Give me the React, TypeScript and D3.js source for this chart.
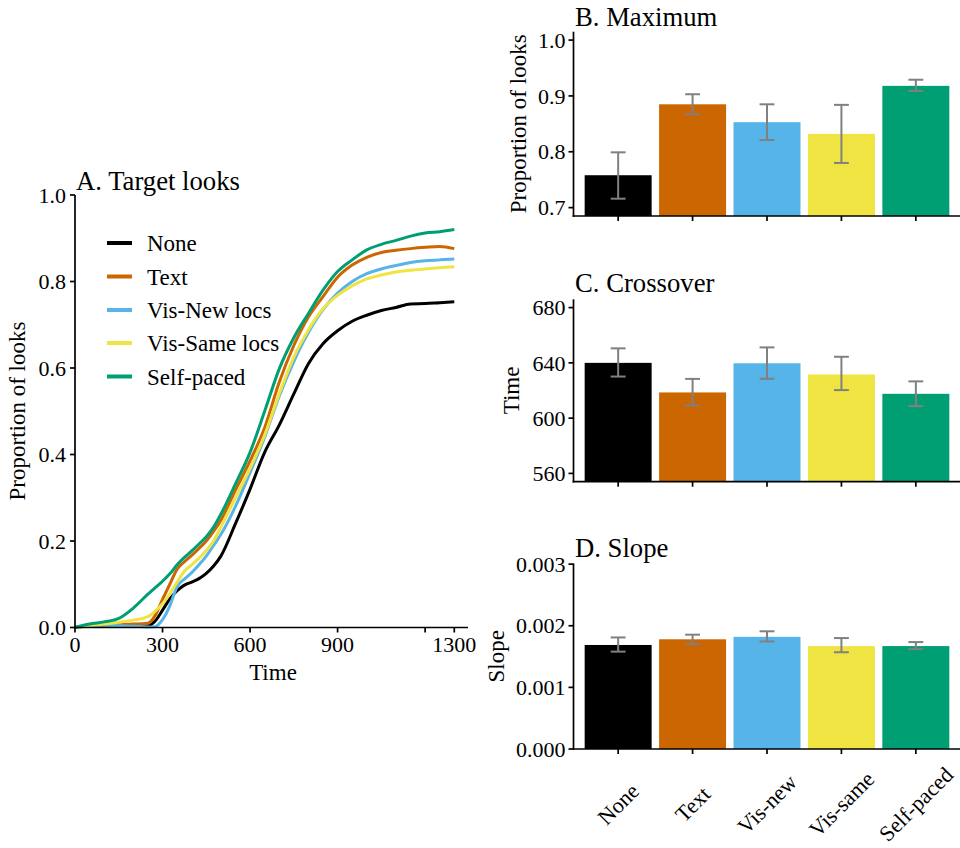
import React from "react";
import * as d3 from "d3";

// ---------- Data ----------
const SERIES_NAMES = ["None", "Text", "Vis-New locs", "Vis-Same locs", "Self-paced"];
const SERIES_COLORS = ["#000000", "#CC6600", "#56B4E9", "#F0E442", "#009E73"];

const TIMES = [0, 50, 100, 150, 200, 250, 275, 300, 325, 350, 375, 400, 425, 450, 475, 500, 550, 600, 650, 700, 750, 800, 850, 900, 950, 1000, 1050, 1100, 1150, 1200, 1250, 1300];

const NONE_LOOKS = [0, 0.004, 0.005, 0.005, 0.005, 0.004, 0.015, 0.04, 0.066, 0.085, 0.098, 0.105, 0.113, 0.125, 0.142, 0.165, 0.24, 0.32, 0.405, 0.468, 0.54, 0.61, 0.656, 0.686, 0.708, 0.722, 0.733, 0.74, 0.748, 0.749, 0.751, 0.753];
const TEXT_LOOKS = [0, 0.004, 0.006, 0.007, 0.008, 0.01, 0.028, 0.065, 0.1, 0.135, 0.152, 0.167, 0.183, 0.2, 0.222, 0.248, 0.318, 0.385, 0.462, 0.567, 0.652, 0.718, 0.765, 0.81, 0.838, 0.856, 0.867, 0.872, 0.876, 0.879, 0.881, 0.876];
const VISNEW_LOOKS = [0, 0.004, 0.005, 0.004, 0.003, 0.001, 0.002, 0.018, 0.05, 0.095, 0.112, 0.127, 0.145, 0.165, 0.19, 0.215, 0.28, 0.358, 0.44, 0.535, 0.615, 0.682, 0.735, 0.773, 0.8, 0.818, 0.829, 0.837, 0.844, 0.848, 0.85, 0.852];
const VISSAME_LOOKS = [0, 0.005, 0.008, 0.012, 0.017, 0.025, 0.038, 0.055, 0.078, 0.105, 0.13, 0.145, 0.16, 0.178, 0.2, 0.232, 0.3, 0.368, 0.445, 0.54, 0.625, 0.688, 0.737, 0.768, 0.79, 0.806, 0.815, 0.822, 0.826, 0.829, 0.832, 0.834];
const SELF_LOOKS = [0, 0.008, 0.013, 0.021, 0.045, 0.077, 0.092, 0.107, 0.124, 0.145, 0.162, 0.177, 0.193, 0.21, 0.232, 0.262, 0.332, 0.405, 0.5, 0.598, 0.67, 0.726, 0.78, 0.823, 0.85, 0.873, 0.886, 0.895, 0.905, 0.912, 0.915, 0.92];
const LOOK_SERIES = [NONE_LOOKS, TEXT_LOOKS, VISNEW_LOOKS, VISSAME_LOOKS, SELF_LOOKS];

const A_X_TICKS = [0, 300, 600, 900, 1200, 1300];
const A_X_LABELS = ["0", "300", "600", "900", "", "1300"];
const A_Y_TICKS = [0, 0.2, 0.4, 0.6, 0.8, 1.0];

const CATEGORIES = ["None", "Text", "Vis-new", "Vis-same", "Self-paced"];

const MAX_VALUES = [0.758, 0.885, 0.853, 0.832, 0.918];
const MAX_LOW = [0.716, 0.867, 0.821, 0.78, 0.909];
const MAX_HIGH = [0.799, 0.903, 0.885, 0.884, 0.929];
const MAX_TICKS = [0.7, 0.8, 0.9, 1.0];

const CROSS_VALUES = [640.0, 618.6, 639.7, 631.6, 617.6];
const CROSS_LOW = [630.1, 609.2, 628.5, 620.3, 608.7];
const CROSS_HIGH = [650.5, 628.4, 651.2, 644.4, 626.6];
const CROSS_TICKS = [560, 600, 640, 680];

const SLOPE_VALUES = [0.001688, 0.00178, 0.00182, 0.00167, 0.00167];
const SLOPE_LOW = [0.00158, 0.0017, 0.001745, 0.00157, 0.00162];
const SLOPE_HIGH = [0.00181, 0.001855, 0.00191, 0.0018, 0.001735];
const SLOPE_TICKS = [0, 0.001, 0.002, 0.003];

const FONT = "'Liberation Serif', 'Times New Roman', serif";
const AXIS_W = 1.7;

function BarPanel(props: {
  title: string;
  yTitle: string;
  top: number;
  bottom: number;
  domain: [number, number];
  values: number[];
  low: number[];
  high: number[];
  ticks: number[];
  fmt: (v: number) => string;
  titleY: number;
  yTitleX: number;
  showXLabels?: boolean;
}) {
  const { title, yTitle, top, bottom, domain, values, low, high, ticks, fmt, titleY, yTitleX, showXLabels } = props;
  const left = 573.5;
  const right = 960.5;
  const x = d3.scaleBand<string>().domain(CATEGORIES).range([left, right]).paddingInner(0.1).paddingOuter(0.15);
  const y = d3.scaleLinear().domain(domain).range([bottom, top]);
  const bw = x.bandwidth();
  const capW = x.step() * 0.2;
  return (
    <g>
      <text x={575} y={titleY} fontFamily={FONT} fontSize={26.7} fill="#000">{title}</text>
      {CATEGORIES.map((c, i) => (
        <rect key={c} x={x(c)} y={y(values[i])} width={bw} height={bottom - y(values[i])} fill={SERIES_COLORS[i]} />
      ))}
      {CATEGORIES.map((c, i) => {
        const cx = (x(c) as number) + bw / 2;
        return (
          <g key={"e" + c} stroke="#808080" strokeWidth={2} fill="none">
            <line x1={cx} x2={cx} y1={y(low[i])} y2={y(high[i])} />
            <line x1={cx - capW / 2} x2={cx + capW / 2} y1={y(low[i])} y2={y(low[i])} />
            <line x1={cx - capW / 2} x2={cx + capW / 2} y1={y(high[i])} y2={y(high[i])} />
          </g>
        );
      })}
      <line x1={left} x2={left} y1={top} y2={bottom + AXIS_W / 2} stroke="#000" strokeWidth={AXIS_W} />
      <line x1={left - AXIS_W / 2} x2={right} y1={bottom} y2={bottom} stroke="#000" strokeWidth={AXIS_W} />
      {ticks.map((t) => (
        <g key={"yt" + t}>
          <line x1={left - 5} x2={left} y1={y(t)} y2={y(t)} stroke="#000" strokeWidth={AXIS_W} />
          <text x={left - 8} y={y(t)} dy="0.35em" textAnchor="end" fontFamily={FONT} fontSize={22} fill="#000">{fmt(t)}</text>
        </g>
      ))}
      {CATEGORIES.map((c) => {
        const cx = (x(c) as number) + bw / 2;
        return <line key={"xt" + c} x1={cx} x2={cx} y1={bottom} y2={bottom + 5} stroke="#000" strokeWidth={AXIS_W} />;
      })}
      {showXLabels &&
        CATEGORIES.map((c) => {
          const cx = (x(c) as number) + bw / 2;
          return (
            <text key={"xl" + c} transform={`translate(${cx},${bottom + 55}) rotate(-45)`} dy="0.35em" textAnchor="middle" fontFamily={FONT} fontSize={22} fill="#000">{c}</text>
          );
        })}
      <text transform={`translate(${yTitleX},${(top + bottom) / 2}) rotate(-90)`} textAnchor="middle" fontFamily={FONT} fontSize={23} fill="#000">{yTitle}</text>
    </g>
  );
}

export default function App() {
  const ax = d3.scaleLinear().domain([0, 1347]).range([75, 468]);
  const ay = d3.scaleLinear().domain([0, 1]).range([627.5, 195]);
  const line = d3
    .line<number>()
    .x((_, i) => ax(TIMES[i]))
    .y((d) => ay(d))
    .curve(d3.curveMonotoneX);

  const legendRows = [243, 276.5, 310, 343, 376.5];

  return (
    <svg width={960} height={848} style={{ position: "absolute", left: 0, top: 0, background: "#fff" }}>
      {/* Panel A */}
      <text x={76} y={190} fontFamily={FONT} fontSize={26.7} fill="#000">A. Target looks</text>
      {LOOK_SERIES.map((s, i) => (
        <path key={SERIES_NAMES[i]} d={line(s) || ""} fill="none" stroke={SERIES_COLORS[i]} strokeWidth={3} strokeLinejoin="round" />
      ))}
      <line x1={ax(0)} x2={ax(0)} y1={ay(1)} y2={ay(0) + AXIS_W / 2} stroke="#000" strokeWidth={AXIS_W} />
      <line x1={ax(0) - AXIS_W / 2} x2={ax(1347)} y1={ay(0)} y2={ay(0)} stroke="#000" strokeWidth={AXIS_W} />
      {A_Y_TICKS.map((t) => (
        <g key={"ay" + t}>
          <line x1={ax(0) - 5} x2={ax(0)} y1={ay(t)} y2={ay(t)} stroke="#000" strokeWidth={AXIS_W} />
          <text x={ax(0) - 9} y={ay(t)} dy="0.35em" textAnchor="end" fontFamily={FONT} fontSize={22} fill="#000">{t.toFixed(1)}</text>
        </g>
      ))}
      {A_X_TICKS.map((t, i) => (
        <g key={"ax" + t}>
          <line x1={ax(t)} x2={ax(t)} y1={ay(0)} y2={ay(0) + 5} stroke="#000" strokeWidth={AXIS_W} />
          <text x={ax(t)} y={652} textAnchor="middle" fontFamily={FONT} fontSize={22} fill="#000">{A_X_LABELS[i]}</text>
        </g>
      ))}
      <text x={273} y={680} textAnchor="middle" fontFamily={FONT} fontSize={23} fill="#000">Time</text>
      <text transform={`translate(25,411) rotate(-90)`} textAnchor="middle" fontFamily={FONT} fontSize={23} fill="#000">Proportion of looks</text>
      {SERIES_NAMES.map((n, i) => (
        <g key={"lg" + n}>
          <line x1={107} x2={132} y1={legendRows[i]} y2={legendRows[i]} stroke={SERIES_COLORS[i]} strokeWidth={4} />
          <text x={147} y={legendRows[i]} dy="0.35em" fontFamily={FONT} fontSize={23} fill="#000">{n}</text>
        </g>
      ))}

      {/* Panel B */}
      <BarPanel title="B. Maximum" yTitle="Proportion of looks" top={31.7} bottom={216} domain={[0.685, 1.015]} values={MAX_VALUES} low={MAX_LOW} high={MAX_HIGH} ticks={MAX_TICKS} fmt={(v) => v.toFixed(1)} titleY={26} yTitleX={526} />
      {/* Panel C */}
      <BarPanel title="C. Crossover" yTitle="Time" top={299.3} bottom={481.7} domain={[554, 686]} values={CROSS_VALUES} low={CROSS_LOW} high={CROSS_HIGH} ticks={CROSS_TICKS} fmt={(v) => String(v)} titleY={292} yTitleX={519} />
      {/* Panel D */}
      <BarPanel title="D. Slope" yTitle="Slope" top={563.5} bottom={749} domain={[0, 0.00301]} values={SLOPE_VALUES} low={SLOPE_LOW} high={SLOPE_HIGH} ticks={SLOPE_TICKS} fmt={(v) => v.toFixed(3)} titleY={557} yTitleX={504} showXLabels />
    </svg>
  );
}
